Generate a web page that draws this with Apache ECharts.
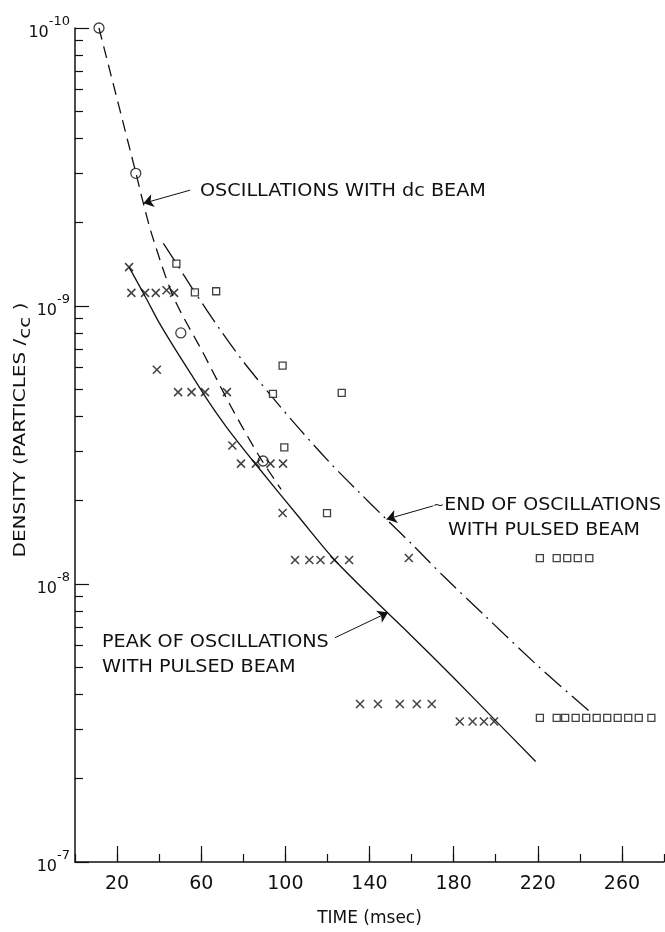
<!DOCTYPE html>
<html>
<head>
<meta charset="utf-8">
<script src="https://cdn.jsdelivr.net/npm/echarts@6/dist/echarts.min.js"></script>
<style>
  html, body { margin: 0; padding: 0; background: #fff; }
  #chart { width: 665px; height: 932px; }
</style>
</head>
<body>
<div id="chart"></div>
<script>
// Time axis (msec): labelled ticks
const timeTickValues = [20, 60, 100, 140, 180, 220, 260];
const timeTickLabels = ['20', '60', '100', '140', '180', '220', '260'];

// Density axis (particles/cc): decades and the exponents printed beside them
const densityDecades = [1e7, 1e8, 1e9, 1e10];
const densityExponents = ['-7', '-8', '-9', '-10'];

// Measured points: crosses
const crossTime = [25.7, 26.8, 33.3, 38.4, 43.5, 47.1, 38.9, 49.0, 55.4, 61.8, 72.2,
  74.8, 78.9, 86.0, 92.9, 98.9, 98.7, 104.6, 111.4, 116.7, 123.3, 130.3, 158.7,
  135.5, 144, 154.4, 162.5, 169.6, 182.9, 189, 194.4, 199.2];
const crossDensity = [1.38e9, 1.115e9, 1.115e9, 1.115e9, 1.14e9, 1.115e9, 5.9e8, 4.9e8, 4.9e8, 4.9e8, 4.9e8,
  3.15e8, 2.71e8, 2.71e8, 2.71e8, 2.71e8, 1.8e8, 1.22e8, 1.22e8, 1.22e8, 1.22e8, 1.22e8, 1.24e8,
  3.7e7, 3.7e7, 3.7e7, 3.7e7, 3.7e7, 3.2e7, 3.2e7, 3.2e7, 3.2e7];

// Measured points: squares
const squareTime = [48.2, 57.0, 67.1, 94.1, 98.7, 126.8, 99.5, 119.8,
  221, 229, 234, 239, 244.5,
  221, 229, 233, 238, 243, 248, 253, 258, 263, 268, 274];
const squareDensity = [1.42e9, 1.12e9, 1.13e9, 4.83e8, 6.1e8, 4.87e8, 3.1e8, 1.8e8,
  1.24e8, 1.24e8, 1.24e8, 1.24e8, 1.24e8,
  3.3e7, 3.3e7, 3.3e7, 3.3e7, 3.3e7, 3.3e7, 3.3e7, 3.3e7, 3.3e7, 3.3e7, 3.3e7];

// Measured points: circles
const circleTime = [11.4, 28.9, 50.3, 89.4];
const circleDensity = [1e10, 3.0e9, 8.0e8, 2.77e8];

// Curve: oscillations with dc beam (dashed)
const dcBeamTime = [11.4, 28.9, 32.5, 36.8, 47, 61, 74, 87.6, 98];
const dcBeamDensity = [1e10, 3.02e9, 2.34e9, 1.78e9, 1.07e9, 6.76e8, 4.37e8, 2.88e8, 2.19e8];

// Curve: ~end of oscillations with pulsed beam (dash-dot)
const pulsedEndTime = [42, 48, 57, 69, 80, 94, 107, 122, 135, 148, 161, 175, 195, 221, 248];
const pulsedEndDensity = [1.68e9, 1.43e9, 1.12e9, 8.22e8, 6.31e8, 4.68e8, 3.59e8, 2.69e8,
  2.14e8, 1.71e8, 1.37e8, 1.07e8, 7.67e7, 5.0e7, 3.31e7];

// Curve: peak of oscillations with pulsed beam (solid)
const pulsedPeakTime = [25.7, 34, 40, 48, 56, 64, 72, 86, 107, 123, 142, 160, 180, 199, 219];
const pulsedPeakDensity = [1.38e9, 1.06e9, 8.71e8, 6.92e8, 5.56e8, 4.47e8, 3.67e8, 2.69e8,
  1.72e8, 1.23e8, 8.81e7, 6.5e7, 4.6e7, 3.28e7, 2.3e7];

// Annotation arrows: [time, density] from label end to curve
const dcArrow = [[54.7, 2.61e9], [32.5, 2.34e9]];
const endArrow = [[170.3, 1.91e8], [148.1, 1.71e8]];
const peakArrow = [[123.6, 6.41e7], [148.8, 7.9e7]];

const pairs = (xs, ys) => xs.map((x, i) => [x, ys[i]]);

const INK = '#111';
const FONT = '"DejaVu Sans", sans-serif';

// Minor ticks of the density axis, placed in log10 space
const minorTickPositions = [];
for (let d = 7; d < 10; d++) {
  for (let k = 2; k <= 9; k++) minorTickPositions.push(Math.log10(k) + d);
}

const arrowLine = (seg) => ({
  silent: true,
  symbol: ['none', 'arrow'],
  symbolSize: 10,
  label: { show: false },
  lineStyle: { type: 'solid', color: INK, width: 1 },
  data: [[{ coord: seg[0] }, { coord: seg[1] }]]
});

const chart = echarts.init(document.getElementById('chart'), null, { renderer: 'canvas' });

chart.setOption({
  animation: false,
  backgroundColor: '#fff',
  grid: { left: 75, right: 1, top: 28, bottom: 63, containLabel: false },
  xAxis: [
    {
      type: 'value', position: 'bottom', min: 0, max: 280, interval: 20,
      axisLine: { show: true, onZero: false, lineStyle: { color: INK, width: 1.5 } },
      axisTick: { show: true, inside: true, length: 8, lineStyle: { color: INK, width: 1.2 } },
      axisLabel: { show: false },
      splitLine: { show: false }
    },
    {
      type: 'value', position: 'bottom', min: 0, max: 280,
      axisLine: { show: false, onZero: false },
      axisTick: { show: true, inside: true, length: 16, customValues: timeTickValues,
        lineStyle: { color: INK, width: 1.2 } },
      axisLabel: {
        show: true, customValues: timeTickValues, margin: 13,
        formatter: v => timeTickLabels[timeTickValues.indexOf(v)] || '',
        fontSize: 19, fontFamily: FONT, color: INK
      },
      splitLine: { show: false },
      name: 'TIME (msec)', nameLocation: 'middle', nameGap: 48,
      nameTextStyle: { fontSize: 17, fontFamily: FONT, color: INK }
    }
  ],
  yAxis: [
    {
      type: 'log', logBase: 10, position: 'left', min: 1e7, max: 1e10,
      axisLine: { show: true, onZero: false, lineStyle: { color: INK, width: 1.5 } },
      axisTick: { show: true, inside: true, length: 14, lineStyle: { color: INK, width: 1.2 } },
      minorTick: { show: false },
      axisLabel: {
        show: true, margin: 5,
        formatter: v => {
          const i = densityDecades.findIndex(d => Math.abs(Math.log10(d) - Math.log10(v)) < 1e-6);
          return i < 0 ? '' : '{b|10}{s|' + densityExponents[i] + '}';
        },
        rich: {
          b: { fontSize: 16, fontFamily: FONT, color: INK, verticalAlign: 'bottom', padding: [10, 0, 0, 0] },
          s: { fontSize: 13, fontFamily: FONT, color: INK, verticalAlign: 'top', lineHeight: 13 }
        }
      },
      splitLine: { show: false }
    },
    {
      type: 'value', position: 'left', min: 7, max: 10,
      axisLine: { show: false, onZero: false },
      axisTick: { show: true, inside: true, length: 8, customValues: minorTickPositions,
        lineStyle: { color: INK, width: 1.2 } },
      axisLabel: { show: false },
      splitLine: { show: false }
    }
  ],
  series: [
    {
      name: 'dc beam', type: 'line', xAxisIndex: 0, yAxisIndex: 0,
      data: pairs(dcBeamTime, dcBeamDensity), smooth: 0.3, showSymbol: false, symbol: 'none',
      lineStyle: { color: INK, width: 1.3, type: [12, 7] },
      markLine: arrowLine(dcArrow), z: 3
    },
    {
      name: 'end pulsed', type: 'line', xAxisIndex: 0, yAxisIndex: 0,
      data: pairs(pulsedEndTime, pulsedEndDensity), smooth: 0.3, showSymbol: false, symbol: 'none',
      lineStyle: { color: INK, width: 1.3, type: [22, 6, 2, 6] },
      markLine: arrowLine(endArrow), z: 3
    },
    {
      name: 'peak pulsed', type: 'line', xAxisIndex: 0, yAxisIndex: 0,
      data: pairs(pulsedPeakTime, pulsedPeakDensity), smooth: 0.3, showSymbol: false, symbol: 'none',
      lineStyle: { color: INK, width: 1.3, type: 'solid' },
      markLine: arrowLine(peakArrow), z: 3
    },
    {
      name: 'crosses', type: 'scatter', xAxisIndex: 0, yAxisIndex: 0,
      data: pairs(crossTime, crossDensity),
      symbol: 'path://M0 0L10 10M10 0L0 10', symbolSize: 8,
      itemStyle: { color: 'rgba(0,0,0,0)', borderColor: INK, borderWidth: 1.5 }, z: 4
    },
    {
      name: 'squares', type: 'scatter', xAxisIndex: 0, yAxisIndex: 0,
      data: pairs(squareTime, squareDensity),
      symbol: 'rect', symbolSize: 7,
      itemStyle: { color: '#fff', borderColor: INK, borderWidth: 1.3 }, z: 4
    },
    {
      name: 'circles', type: 'scatter', xAxisIndex: 0, yAxisIndex: 0,
      data: pairs(circleTime, circleDensity),
      symbol: 'circle', symbolSize: 10,
      itemStyle: { color: 'rgba(0,0,0,0)', borderColor: INK, borderWidth: 1.3 }, z: 4
    }
  ],
  graphic: [
    {
      type: 'text', x: 21, y: 430, rotation: Math.PI / 2, scaleX: 1.25,
      style: {
        text: 'DENSITY (PARTICLES /{s|cc} )',
        font: '16px ' + FONT, fill: INK,
        align: 'center', verticalAlign: 'middle', textAlign: 'center', textVerticalAlign: 'middle',
        rich: { s: { fontSize: 16, fontFamily: FONT, fill: INK, padding: [9, 0, 0, 0], verticalAlign: 'bottom' } }
      }
    },
    {
      type: 'text', x: 200, y: 192, scaleX: 1.13,
      style: { text: 'OSCILLATIONS WITH dc BEAM', font: '17px ' + FONT, fill: INK,
        align: 'left', verticalAlign: 'middle', textAlign: 'left', textVerticalAlign: 'middle' }
    },
    {
      type: 'text', x: 433, y: 506, scaleX: 1.12,
      style: { text: '{t|~}END OF OSCILLATIONS', font: '17px ' + FONT, fill: INK,
        align: 'left', verticalAlign: 'middle', textAlign: 'left', textVerticalAlign: 'middle',
        rich: { t: { fontSize: 12, fontFamily: FONT, fill: INK } } }
    },
    {
      type: 'text', x: 448, y: 531, scaleX: 1.12,
      style: { text: 'WITH PULSED BEAM', font: '17px ' + FONT, fill: INK,
        align: 'left', verticalAlign: 'middle', textAlign: 'left', textVerticalAlign: 'middle' }
    },
    {
      type: 'text', x: 102, y: 643, scaleX: 1.13,
      style: { text: 'PEAK OF OSCILLATIONS', font: '17px ' + FONT, fill: INK,
        align: 'left', verticalAlign: 'middle', textAlign: 'left', textVerticalAlign: 'middle' }
    },
    {
      type: 'text', x: 102, y: 668, scaleX: 1.13,
      style: { text: 'WITH PULSED BEAM', font: '17px ' + FONT, fill: INK,
        align: 'left', verticalAlign: 'middle', textAlign: 'left', textVerticalAlign: 'middle' }
    }
  ]
});
</script>
</body>
</html>
